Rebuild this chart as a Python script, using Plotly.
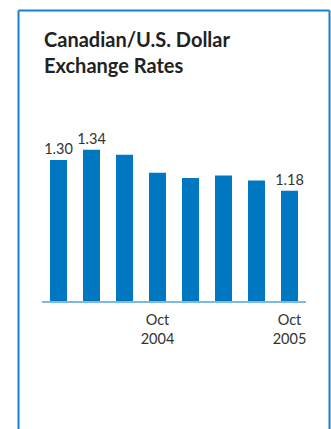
import plotly.graph_objects as go

categories = ["Jan 2004", "Apr 2004", "Jul 2004", "Oct 2004", "Jan 2005", "Apr 2005", "Jul 2005", "Oct 2005"]
rates = [1.30, 1.34, 1.32, 1.25, 1.23, 1.24, 1.22, 1.18]
bar_labels = ["1.30", "1.34", "", "", "", "", "", "1.18"]
tick_positions = ["Oct 2004", "Oct 2005"]
tick_labels = ["Oct<br>2004", "Oct<br>2005"]
title_text = "<b>Canadian/U.S. Dollar<br>Exchange Rates</b>"

BAR = "#0077c1"
FRAME = "#1581d1"
AXIS = "#7db9e3"
TXT = "#333333"
FONT = "Lato, Roboto, sans-serif"

fig = go.Figure(go.Bar(
    x=categories, y=rates, marker_color=BAR, marker_line_width=0,
    text=bar_labels, textposition="outside", cliponaxis=False, constraintext="none",
    textfont=dict(size=14.5, color=TXT, family=FONT),
))

fig.update_layout(
    width=331, height=429,
    margin=dict(l=42, r=25, t=110, b=128),
    paper_bgcolor="white", plot_bgcolor="white",
    bargap=0.485, showlegend=False,
    font=dict(family=FONT, color=TXT),
    xaxis=dict(type="category", categoryorder="array", categoryarray=categories,
               range=[-0.5, 7.5], showgrid=False, zeroline=False,
               showline=True, linecolor=AXIS, linewidth=2,
               tickmode="array", tickvals=tick_positions, ticktext=tick_labels,
               ticks="", ticklabelstandoff=5,
               tickfont=dict(size=14.5, color=TXT, family=FONT)),
    yaxis=dict(range=[0.75, 1.495], visible=False, showgrid=False, zeroline=False),
)

def px_x(p):
    return (p - 42) / 264
def px_y(p):
    return (301 - p) / 191

fig.add_annotation(text=title_text, xref="paper", yref="paper",
                   x=px_x(42), y=px_y(25), xanchor="left", yanchor="top",
                   align="left", showarrow=False,
                   font=dict(size=20, color="#222222", family=FONT))

fr = dict(type="line", xref="paper", yref="paper", line=dict(color=FRAME, width=2), layer="above")
fig.add_shape(**fr, x0=px_x(18.5), x1=px_x(329.5), y0=px_y(10.5), y1=px_y(10.5))
fig.add_shape(**fr, x0=px_x(18.5), x1=px_x(18.5), y0=px_y(10.5), y1=px_y(440))
fig.add_shape(**fr, x0=px_x(329.5), x1=px_x(329.5), y0=px_y(10.5), y1=px_y(440))

fig.write_html("out.html")
